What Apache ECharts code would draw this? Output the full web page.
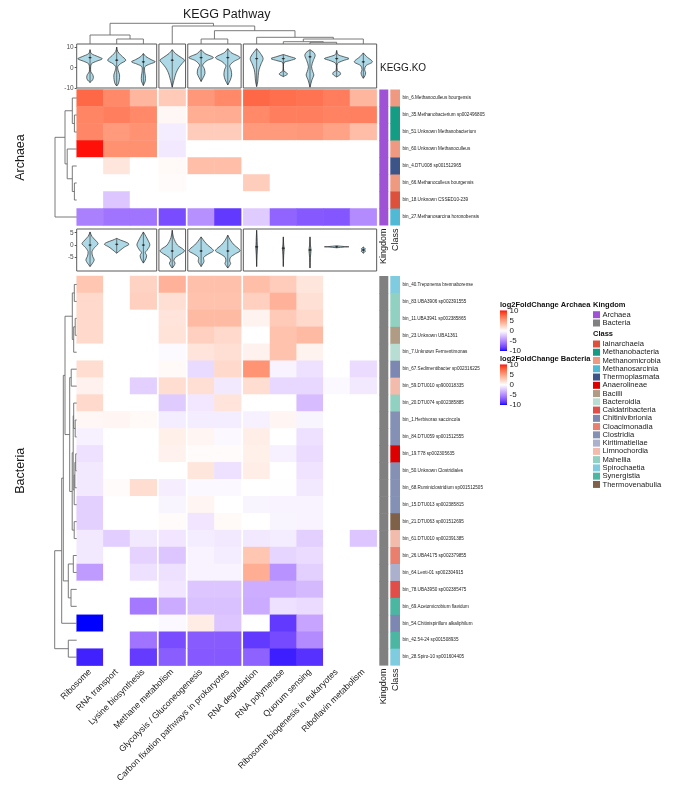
<!DOCTYPE html>
<html><head><meta charset="utf-8">
<script src="https://cdn.jsdelivr.net/npm/echarts@6/dist/echarts.min.js"></script>
<style>html,body{margin:0;padding:0;background:#fff}#c{width:691px;height:797px}</style>
</head><body><div id="c"></div>
<script>
// ---------------- DATA ----------------
const pathways = ['Ribosome','RNA transport','Lysine biosynthesis','Methane metabolism','Glycolysis / Gluconeogenesis','Carbon fixation pathways in prokaryotes','RNA degradation','RNA polymerase','Quorum sensing','Ribosome biogenesis in eukaryotes','Riboflavin metabolism'];
const pathwayGroup = [0,0,0,1,2,2,3,3,3,3,3];

const archaeaBins = ['bin_6.Methanoculleus bourgensis','bin_35.Methanobacterium sp002496805','bin_51.Unknown Methanobacterium','bin_60.Unknown Methanoculleus','bin_4.DTU008 sp001512965','bin_66.Methanoculleus bourgensis','bin_18.Unknown CSSED10-239','bin_27.Methanosarcina horonobensis'];
const archaeaClass = ['Methanomicrobia','Methanobacteria','Methanobacteria','Methanomicrobia','Thermoplasmata','Methanomicrobia','Iainarchaeia','Methanosarcinia'];
const archaeaValues = [
  [7.5, 6.0, 3.8, 2.8, 5.3, 6.0, 7.5, 7.2, 7.0, 6.6, 3.8],
  [6.2, 6.5, 6.0, 0.4, 4.2, 4.3, 6.0, 6.5, 6.5, 6.3, 6.4],
  [6.1, 5.2, 5.6, -0.8, 2.7, 2.7, 5.2, 5.2, 5.3, 4.8, 3.5],
  [9.8, 5.7, 5.7, -0.9, 0, 0, 0, 0, 0, 0, 0],
  [0, 1.3, 0, 0.3, 3.4, 3.4, 0, 0, 0, 0, 0],
  [0, 0, 0, 0.2, 0, 0, 2.6, 0, 0, 0, 0],
  [0, -2.4, 0, 0, 0, 0, 0, 0, 0, 0, 0],
  [-5.5, -6.0, -6.0, -7.7, -4.8, -8.5, -2.2, -6.7, -7.2, -7.3, -5.0]
];

const bacteriaBins = ['bin_40.Treponema brennaborense','bin_83.UBA3906 sp002391555','bin_11.UBA3941 sp002385865','bin_23.Unknown UBA1361','bin_7.Unknown Fermentimonas','bin_67.Sedimentibacter sp002316225','bin_59.DTU010 sp900018335','bin_20.DTU074 sp002385885','bin_1.Herbivorax saccincola','bin_84.DTU059 sp001512555','bin_19.T78 sp002305635','bin_50.Unknown Clostridiales','bin_68.Ruminiclostridium sp001512505','bin_15.DTU013 sp002385815','bin_21.DTU063 sp001512695','bin_61.DTU010 sp002391385','bin_26.UBA4175 sp002379855','bin_64.Lenti-01 sp002304915','bin_78.UBA3950 sp002385475','bin_69.Acetomicrobium flavidum','bin_54.Chitinispirillum alkaliphilum','bin_42.54-24 sp001508935','bin_28.Spiro-10 sp001604405'];
const bacteriaClass = ['Spirochaetia','Mahellia','Mahellia','Bacilli','Bacteroidia','Chitinivibrionia','Limnochordia','Mahellia','Clostridia','Clostridia','Anaerolineae','Clostridia','Clostridia','Clostridia','Thermovenabulia','Limnochordia','Cloacimonadia','Kiritimatiellae','Caldatribacteria','Synergistia','Chitinivibrionia','Synergistia','Spirochaetia'];
const bacteriaValues = [
  [3.0, 0, 2.3, 4.0, 3.3, 3.3, 3.4, 2.7, 1.3, 0, 0],
  [2.0, 0, 2.5, 1.7, 3.2, 3.2, 2.5, 4.0, 1.6, 0, 0],
  [2.0, 0, 0, 1.4, 3.6, 3.6, 0.6, 2.8, 2.0, 0, 0],
  [2.0, 0, 0, 1.5, 2.5, 2.0, 0, 3.2, 3.6, 0, 0],
  [0, 0, 0, -0.2, 1.4, 1.7, 0.7, 3.2, 0.6, 0, 0],
  [1.8, 0, 0, 0.3, -1.6, 2.0, 5.5, -0.5, -1.3, 0, -1.5],
  [0.7, 0, -2.0, 1.8, 1.7, -0.9, 1.8, -1.7, -1.7, -0.3, -0.9],
  [2.0, 0, 0, -2.2, -1.0, 1.4, 0, 0, -2.8, 0, 0],
  [0.4, 0.5, 0.3, -0.8, -0.8, -0.8, -0.6, 0.5, -0.4, 0, 0],
  [-0.6, 0, 0, 0.8, 0.5, -0.3, 0.9, 0, -1.3, 0, 0],
  [-1.3, 0, 0, 0.7, 0.2, 0.2, 0.8, -0.6, -1.5, 0, 0],
  [-0.9, 0, 0, 0, 1.3, -1.3, 0.9, 0, -1.2, 0, 0],
  [-0.9, 0.2, 1.8, -0.7, -0.3, -0.3, 0, -0.1, -0.9, 0, 0],
  [-2.0, 0, 0, -0.4, 0.5, 0, -0.4, -0.5, -0.5, 0, 0],
  [-2.0, 0, 0, 0.2, -1.1, 0.3, 0, -0.4, -0.5, 0, 0],
  [-0.9, -2.1, -0.9, -1.1, -0.8, -0.9, -0.9, -0.8, -2.0, 0, -2.4],
  [-0.9, 0, -1.9, -2.4, -0.5, -0.8, 3.0, -1.8, -1.5, 0, 0],
  [-4.3, 0, -1.3, -1.3, -0.5, -0.5, 4.2, -4.7, -2.0, 0, 0],
  [0, 0, 0, -1.1, -2.4, -2.4, -3.5, -3.5, -3.0, 0, 0],
  [0, 0, -5.8, -3.6, -2.7, -2.7, -3.6, -1.3, -1.5, 0, 0],
  [-10, 0, 0, -0.3, 1.0, -2.4, 0, -8.5, -3.9, 0, 0],
  [0, 0, -6.0, -7.7, -7.1, -7.1, -8.5, -7.8, -5.0, 0, 0],
  [-9.3, 0, -8.4, -7.0, -7.2, -7.2, -6.8, -9.4, -8.8, 0, 0]
];

// dendrogram merges: [childA, childB, height]; leaves 0..n-1, merged nodes numbered n, n+1, ...
const pathwayMerges = [[1,2,5],[0,11,9],[4,5,5],[8,9,1.7],[7,14,2.3],[15,10,5],[6,16,6.7],[13,17,13.3],[3,18,18],[12,19,20.7]];
const archaeaMerges = [[1,2,2.3],[0,8,4.4],[5,6,2.3],[4,10,4.4],[3,11,9.5],[9,12,11.7],[13,7,21.7]];
const bacteriaMerges = [[0,1,2.4],[2,3,1.5],[24,4,3],[23,25,4.4],[5,6,5.5],[8,9,1.5],[7,28,3],[10,11,1],[30,12,1.8],[31,13,2.5],[29,32,3.5],[14,15,2.5],[33,34,4.5],[27,35,7],[26,36,11.7],[16,17,3.4],[18,19,5.7],[38,39,8.4],[37,40,13.4],[41,20,15],[21,22,8.4],[42,43,22]];

// violin profiles: [value, relative half width]
const topViolins = [
  [[8.9,0],[7,0.1],[5.5,0.6],[4.4,0.95],[3.2,0.5],[2,0.12],[0.5,0.05],[-2,0.06],[-3.3,0.2],[-4.7,0.26],[-6,0.2],[-7.3,0]],
  [[10.2,0],[8,0.08],[6,0.35],[3.7,0.7],[2,0.3],[0.5,0.08],[-1.5,0.12],[-3.5,0.22],[-6,0.2],[-8,0.12],[-9,0]],
  [[7,0],[5.5,0.2],[4,0.6],[2.9,0.92],[1.8,0.5],[0.5,0.12],[-2,0.1],[-4,0.15],[-6.5,0.15],[-8.8,0]],
  [[8.9,0],[7,0.25],[5,0.7],[3.7,0.95],[2,0.75],[0,0.5],[-2.5,0.3],[-5,0.18],[-7.5,0.08],[-9.6,0]],
  [[8.9,0],[7,0.3],[5,0.95],[3.5,0.45],[1.3,0.12],[-0.5,0.25],[-2.8,0.3],[-5,0.15],[-6.8,0]],
  [[9.4,0],[7.5,0.25],[5,0.95],[3,0.45],[1,0.15],[-1,0.25],[-3.5,0.3],[-6,0.2],[-8.5,0]],
  [[9.4,0],[7,0.3],[4.5,0.5],[2,0.35],[-1,0.18],[-4,0.12],[-7,0.08],[-9.3,0]],
  [[6.5,0],[5.5,0.5],[4.5,0.95],[3.5,0.5],[2.5,0.05],[-1.5,0.04],[-2.5,0.25],[-3.2,0.32],[-4.4,0]],
  [[8.9,0],[7.5,0.3],[6,0.4],[3.5,0.25],[0.5,0.12],[-2,0.22],[-3.6,0.3],[-6,0.15],[-9.6,0]],
  [[8.5,0],[6.5,0.1],[5.5,0.5],[4.5,0.95],[3.5,0.5],[2,0.06],[-1.5,0.06],[-2.2,0.25],[-3.2,0.3],[-4.6,0]],
  [[7.3,0],[5.5,0.25],[2.9,0.7],[1,0.2],[-1,0.1],[-2.5,0.18],[-4,0.12],[-5.2,0]]
];
const topMedians = [5, 3.7, 2.9, 3.7, 5, 5, 4.5, 4.5, 5.4, 4.5, 2.9];
const midViolins = [
  [[5.3,0],[3.5,0.15],[1.5,0.5],[0.5,0.62],[-1,0.35],[-2.7,0.15],[-4.5,0.2],[-6,0.32],[-7.3,0.2],[-8.7,0]],
  [[2.7,0],[2,0.3],[1,0.8],[0.3,0.95],[-0.8,0.6],[-2,0.3],[-3.3,0]],
  [[5.3,0],[3.5,0.2],[1.5,0.4],[0,0.5],[-2,0.3],[-3,0.15],[-4.2,0.25],[-5.5,0.2],[-7.3,0]],
  [[6,0],[3,0.1],[0,0.4],[-1.5,0.8],[-2.4,0.95],[-3.5,0.7],[-5,0.25],[-6.3,0.12],[-7.3,0.22],[-8.5,0.12],[-9.3,0]],
  [[3.3,0],[1.5,0.25],[0,0.5],[-1.5,0.85],[-2.4,0.95],[-3.5,0.6],[-5,0.2],[-6.7,0.22],[-8.7,0]],
  [[4,0],[2,0.2],[0,0.5],[-1.5,0.85],[-2.4,0.95],[-3.5,0.6],[-5,0.2],[-6.5,0.15],[-7.5,0.22],[-9.3,0]],
  [[6,0],[3,0.03],[0,0.05],[-0.7,0.07],[-4,0.03],[-8.7,0]],
  [[3.3,0],[0,0.03],[-1.3,0.07],[-4,0.03],[-8.7,0]],
  [[3.3,0],[0,0.03],[-2,0.08],[-5,0.03],[-9.3,0]],
  [[-0.3,0],[-0.6,0.6],[-0.7,0.95],[-0.8,0.6],[-1.1,0]],
  [[-0.8,0],[-1.5,0.15],[-2,0.1],[-2.5,0.16],[-3.3,0]]
];
const midMedians = [0, 0.3, 0, -2.4, -2.4, -2.4, -0.7, -1.3, -2, -0.7, -2];
const topTicks = [-10, 0, 10];
const midTicks = [-5, 0, 5];
const legendTicks = [10, 5, 0, -5, -10];
const kingdomNames = ['Archaea', 'Bacteria'];
const kingdomColors = {Archaea: '#A052D6', Bacteria: '#808080'};
const classNames = ['Iainarchaeia','Methanobacteria','Methanomicrobia','Methanosarcinia','Thermoplasmata','Anaerolineae','Bacilli','Bacteroidia','Caldatribacteria','Chitinivibrionia','Cloacimonadia','Clostridia','Kiritimatiellae','Limnochordia','Mahellia','Spirochaetia','Synergistia','Thermovenabulia'];
const classColors = {Iainarchaeia:'#DC503C',Methanobacteria:'#149C84',Methanomicrobia:'#EF9A80',Methanosarcinia:'#50B9D6',Thermoplasmata:'#3C5488',Anaerolineae:'#DC0000',Bacilli:'#B09C85',Bacteroidia:'#B8DED4',Caldatribacteria:'#E04E4A',Chitinivibrionia:'#7C87B2',Cloacimonadia:'#E9806F',Clostridia:'#8491B4',Kiritimatiellae:'#ABB1CC',Limnochordia:'#F3BBAB',Mahellia:'#91D1C2',Spirochaetia:'#7FCCE0',Synergistia:'#4BB7A3',Thermovenabulia:'#7E6148'};

// ---------------- LAYOUT / STYLE ----------------
const FONT = '"Liberation Sans", Arial, sans-serif';
const TXT = '#1a1a1a';
const L = {hmLeft:76.7, colW:26.67, gap:2.2, dendTop:20, dendH:24, topVioTop:44, topVioH:44, archTop:89.5, rowHA:17.0,
  midVioTop:229, midVioH:42, bactTop:276, rowHB:16.94, rowDendLeft:40.7, rowDendW:36,
  kingLeft:379.3, kingW:9, classLeft:390.3, classW:9.7};
const archH = archaeaBins.length * L.rowHA;
const bactH = bacteriaBins.length * L.rowHB;
const colLeft = i => L.hmLeft + i * L.colW + pathwayGroup[i] * L.gap;
const totalW = colLeft(pathways.length - 1) + L.colW - L.hmLeft;
const groups = [...new Set(pathwayGroup)];
const groupCols = groups.map(g => pathways.map((p, i) => i).filter(i => pathwayGroup[i] === g));

// LAB colour ramp (blue - white - red)
function s2l(c){c/=255;return c<=0.04045?c/12.92:Math.pow((c+0.055)/1.055,2.4);}
function l2s(c){const v=c<=0.0031308?12.92*c:1.055*Math.pow(c,1/2.4)-0.055;return Math.max(0,Math.min(255,Math.round(v*255)));}
function rgb2lab(rgb){const r=s2l(rgb[0]),g=s2l(rgb[1]),b=s2l(rgb[2]);
  const X=(0.4124*r+0.3576*g+0.1805*b)/0.95047,Y=0.2126*r+0.7152*g+0.0722*b,Z=(0.0193*r+0.1192*g+0.9505*b)/1.08883;
  const f=t=>t>0.008856?Math.cbrt(t):7.787*t+16/116;const fx=f(X),fy=f(Y),fz=f(Z);
  return [116*fy-16,500*(fx-fy),200*(fy-fz)];}
function lab2hex(lab){const fy=(lab[0]+16)/116,fx=fy+lab[1]/500,fz=fy-lab[2]/200;
  const fi=t=>t>0.206893?t*t*t:(t-16/116)/7.787;const X=fi(fx)*0.95047,Y=fi(fy),Z=fi(fz)*1.08883;
  const r=l2s(3.2406*X-1.5372*Y-0.4986*Z),g=l2s(-0.9689*X+1.8758*Y+0.0415*Z),b=l2s(0.0557*X-0.2040*Y+1.0570*Z);
  return '#'+[r,g,b].map(v=>v.toString(16).padStart(2,'0')).join('');}
const labB=rgb2lab([0,0,255]),labW=rgb2lab([255,255,255]),labR=rgb2lab([255,0,0]);
function rampColor(v){const t=Math.max(-1,Math.min(1,v/10));const a=labW,b=t<0?labB:labR,u=Math.abs(t);
  return lab2hex([a[0]+(b[0]-a[0])*u,a[1]+(b[1]-a[1])*u,a[2]+(b[2]-a[2])*u]);}
const rampColors=[];for(let k=0;k<=40;k++)rampColors.push(rampColor(-10+k*0.5));

// ---------------- BUILD ----------------
const grids=[],xAxes=[],yAxes=[],series=[],heatIdx=[];
function addGrid(g,x,y){const gi=grids.length;grids.push(Object.assign({containLabel:false,outerBoundsMode:'none'},g));
  x.gridIndex=gi;y.gridIndex=gi;xAxes.push(x);yAxes.push(y);return gi;}
const hiddenCat = data => ({type:'category',data,show:false});

function dendroSegs(merges,leafPos){const pos=leafPos.slice(),hg=leafPos.map(()=>0),segs=[];
  merges.forEach(m=>{const a=m[0],b=m[1],h=m[2];segs.push([pos[a],hg[a],pos[b],hg[b],h]);pos.push((pos[a]+pos[b])/2);hg.push(h);});
  return segs;}

function violinRender(profiles,medians){return function(params,api){
  const local=api.value(0),ci=api.value(2),prof=profiles[ci];
  const band=api.size([1,0])[0],cx=api.coord([local,0])[0],hw=band/2*0.97;
  const right=[],left=[];
  prof.forEach(p=>{const y=api.coord([local,p[0]])[1];right.push([cx+p[1]*hw,y]);left.push([cx-p[1]*hw,y]);});
  const pts=right.concat(left.reverse());
  const yT=api.coord([local,prof[0][0]])[1],yB=api.coord([local,prof[prof.length-1][0]])[1],yM=api.coord([local,medians[ci]])[1];
  return {type:'group',children:[
    {type:'polygon',shape:{points:pts,smooth:0.3},style:{fill:'#ADD8E6',stroke:'#2b2b2b',lineWidth:0.7}},
    {type:'line',shape:{x1:cx,y1:yT,x2:cx,y2:yB},style:{stroke:'#2b2b2b',lineWidth:0.6}},
    {type:'line',shape:{x1:cx-1.5,y1:yM,x2:cx+1.5,y2:yM},style:{stroke:'#2b2b2b',lineWidth:0.8}},
    {type:'circle',shape:{cx:cx,cy:yM,r:0.9},style:{fill:'#2b2b2b'}}
  ]};};}

groups.forEach((g,gi)=>{
  const cols=groupCols[gi],left=colLeft(cols[0]),width=cols.length*L.colW,names=cols.map(i=>pathways[i]);
  // top violin
  let k=addGrid({left,top:L.topVioTop,width,height:L.topVioH,show:true,borderColor:'#5a5a5a',borderWidth:1,backgroundColor:'transparent'},
    hiddenCat(names),
    gi===0?{type:'value',min:-10,max:11.7,axisLine:{show:false},splitLine:{show:false},
      axisTick:{show:true,length:2,customValues:topTicks,lineStyle:{color:'#555'}},
      axisLabel:{customValues:topTicks,fontSize:6.5,color:'#4d4d4d',margin:3,fontFamily:FONT}}
      :{type:'value',min:-10,max:11.7,show:false});
  series.push({type:'custom',xAxisIndex:k,yAxisIndex:k,clip:false,renderItem:violinRender(topViolins,topMedians),
    encode:{x:0,y:1},data:cols.map((c,j)=>[j,0,c])});
  // archaea heatmap
  k=addGrid({left,top:L.archTop,width,height:archH},hiddenCat(names),{type:'category',data:archaeaBins,inverse:true,show:false});
  heatIdx.push(series.length);
  series.push({type:'heatmap',xAxisIndex:k,yAxisIndex:k,emphasis:{disabled:true},
    data:archaeaValues.flatMap((row,r)=>cols.map((c,j)=>[j,r,row[c]]))});
  // middle violin
  k=addGrid({left,top:L.midVioTop,width,height:L.midVioH,show:true,borderColor:'#5a5a5a',borderWidth:1,backgroundColor:'transparent'},
    hiddenCat(names),
    gi===0?{type:'value',min:-10.5,max:6.5,axisLine:{show:false},splitLine:{show:false},
      axisTick:{show:true,length:2,customValues:midTicks,lineStyle:{color:'#555'}},
      axisLabel:{customValues:midTicks,fontSize:6.5,color:'#4d4d4d',margin:3,fontFamily:FONT}}
      :{type:'value',min:-10.5,max:6.5,show:false});
  series.push({type:'custom',xAxisIndex:k,yAxisIndex:k,clip:false,renderItem:violinRender(midViolins,midMedians),
    encode:{x:0,y:1},data:cols.map((c,j)=>[j,0,c])});
  // bacteria heatmap
  k=addGrid({left,top:L.bactTop,width,height:bactH},
    {type:'category',data:names,axisLine:{show:false},axisTick:{show:false},
      axisLabel:{interval:0,rotate:45,fontSize:8.7,color:TXT,margin:5,fontFamily:FONT}},
    {type:'category',data:bacteriaBins,inverse:true,show:false});
  heatIdx.push(series.length);
  series.push({type:'heatmap',xAxisIndex:k,yAxisIndex:k,emphasis:{disabled:true},
    data:bacteriaValues.flatMap((row,r)=>cols.map((c,j)=>[j,r,row[c]]))});
});

// column dendrogram
const dendStyle={stroke:'#6b6b6b',lineWidth:0.9,fill:null};
let k=addGrid({left:L.hmLeft,top:L.dendTop,width:totalW,height:L.dendH},
  {type:'value',min:0,max:totalW,show:false},{type:'value',min:0,max:L.dendH,show:false});
series.push({type:'custom',xAxisIndex:k,yAxisIndex:k,clip:false,encode:{x:0,y:1},
  data:dendroSegs(pathwayMerges,pathways.map((p,i)=>colLeft(i)+L.colW/2-L.hmLeft)),
  renderItem:(p,api)=>({type:'polyline',shape:{points:[api.coord([api.value(0),api.value(1)]),api.coord([api.value(0),api.value(4)]),
    api.coord([api.value(2),api.value(4)]),api.coord([api.value(2),api.value(3)])]},style:dendStyle})});

// row dendrograms
function rowDendro(top,height,bins,merges,name){
  const k=addGrid({left:L.rowDendLeft,top,width:L.rowDendW,height},
    {type:'value',min:0,max:L.rowDendW,inverse:true,show:false},
    {type:'value',min:0,max:bins.length,inverse:true,axisLine:{show:false},axisTick:{show:false},axisLabel:{show:false},splitLine:{show:false},
      name,nameLocation:'middle',nameRotate:90,nameGap:14,nameTextStyle:{fontSize:12.5,color:TXT,fontFamily:FONT}});
  series.push({type:'custom',xAxisIndex:k,yAxisIndex:k,clip:false,encode:{x:1,y:0},
    data:dendroSegs(merges,bins.map((b,i)=>i+0.5)),
    renderItem:(p,api)=>({type:'polyline',shape:{points:[api.coord([api.value(1),api.value(0)]),api.coord([api.value(4),api.value(0)]),
      api.coord([api.value(4),api.value(2)]),api.coord([api.value(3),api.value(2)])]},style:dendStyle})});
}
rowDendro(L.archTop,archH,archaeaBins,archaeaMerges,'Archaea');
rowDendro(L.bactTop,bactH,bacteriaBins,bacteriaMerges,'Bacteria');

// annotation columns
function annoCol(left,width,top,height,bins,label,colors,showNames){
  const k=addGrid({left,top,width,height},
    {type:'category',data:[label],axisLine:{show:false},axisTick:{show:false},
      axisLabel:{interval:0,rotate:90,fontSize:9,color:TXT,margin:3,fontFamily:FONT}},
    showNames?{type:'category',data:bins,inverse:true,position:'right',axisLine:{show:false},axisTick:{show:false},
      axisLabel:{interval:0,fontSize:4.6,color:'#222',margin:2.5,fontFamily:FONT}}
      :{type:'category',data:bins,inverse:true,show:false});
  series.push({type:'custom',xAxisIndex:k,yAxisIndex:k,clip:false,encode:{x:0,y:1},data:bins.map((b,i)=>[0,i]),
    renderItem:(p,api)=>{const c=api.coord([0,api.value(1)]),s=api.size([1,1]);const last=api.value(1)===bins.length-1;
      return {type:'rect',shape:{x:c[0]-s[0]/2,y:c[1]-s[1]/2,width:s[0],height:s[1]+(last?0:0.6)},style:{fill:colors[p.dataIndex]}};}});
}
annoCol(L.kingLeft,L.kingW,L.archTop,archH,archaeaBins,'Kingdom',archaeaBins.map(()=>kingdomColors.Archaea),false);
annoCol(L.classLeft,L.classW,L.archTop,archH,archaeaBins,'Class',archaeaClass.map(c=>classColors[c]),true);
annoCol(L.kingLeft,L.kingW,L.bactTop,bactH,bacteriaBins,'Kingdom',bacteriaBins.map(()=>kingdomColors.Bacteria),false);
annoCol(L.classLeft,L.classW,L.bactTop,bactH,bacteriaBins,'Class',bacteriaClass.map(c=>classColors[c]),true);

// ---------------- GRAPHIC TEXTS / LEGENDS ----------------
const txt=(x,y,text,o)=>Object.assign({type:'text',x,y,silent:true,style:Object.assign({text,fontSize:8,fontFamily:FONT,fill:TXT,align:'left',verticalAlign:'middle'},o||{})});
const graphic=[];
graphic.push(txt(L.hmLeft+totalW/2,15,'KEGG Pathway',{fontSize:12.5,align:'center'}));
graphic.push(txt(380,68,'KEGG.KO',{fontSize:10}));
function colorBar(x,titleY,title){
  graphic.push(txt(x,titleY,title,{fontWeight:'bold',fontSize:7.5,fill:'#111'}));
  const top=titleY+5.5,h=40.5;
  graphic.push({type:'rect',silent:true,shape:{x,y:top,width:7,height:h},
    style:{fill:new echarts.graphic.LinearGradient(0,0,0,1,rampColors.slice().reverse().map((c,i,a)=>({offset:i/(a.length-1),color:c})))}});
  legendTicks.forEach(v=>graphic.push(txt(x+9.5,top+(10-v)/20*h,String(v),{fontSize:8,fill:'#222'})));
}
colorBar(500,305,'log2FoldChange Archaea');
colorBar(500,359,'log2FoldChange Bacteria');
graphic.push(txt(593,305,'Kingdom',{fontWeight:'bold',fontSize:7.5,fill:'#111'}));
kingdomNames.forEach((n,i)=>{const y=314.7+i*8.3;
  graphic.push({type:'rect',silent:true,shape:{x:593,y:y-3.5,width:7,height:7},style:{fill:kingdomColors[n]}});
  graphic.push(txt(602.5,y,n,{fontSize:7.6}));});
graphic.push(txt(593,334,'Class',{fontWeight:'bold',fontSize:7.5,fill:'#111'}));
classNames.forEach((n,i)=>{const y=344+i*8.26;
  graphic.push({type:'rect',silent:true,shape:{x:593,y:y-3.5,width:7,height:7},style:{fill:classColors[n]}});
  graphic.push(txt(602.5,y,n,{fontSize:7.6}));});

const chart=echarts.init(document.getElementById('c'),null,{renderer:'canvas'});
chart.setOption({
  animation:false,backgroundColor:'#ffffff',textStyle:{fontFamily:FONT},
  grid:grids,xAxis:xAxes,yAxis:yAxes,series,graphic,
  visualMap:[{type:'continuous',show:false,min:-10,max:10,seriesIndex:heatIdx,inRange:{color:rampColors}}]
});
</script></body></html>
